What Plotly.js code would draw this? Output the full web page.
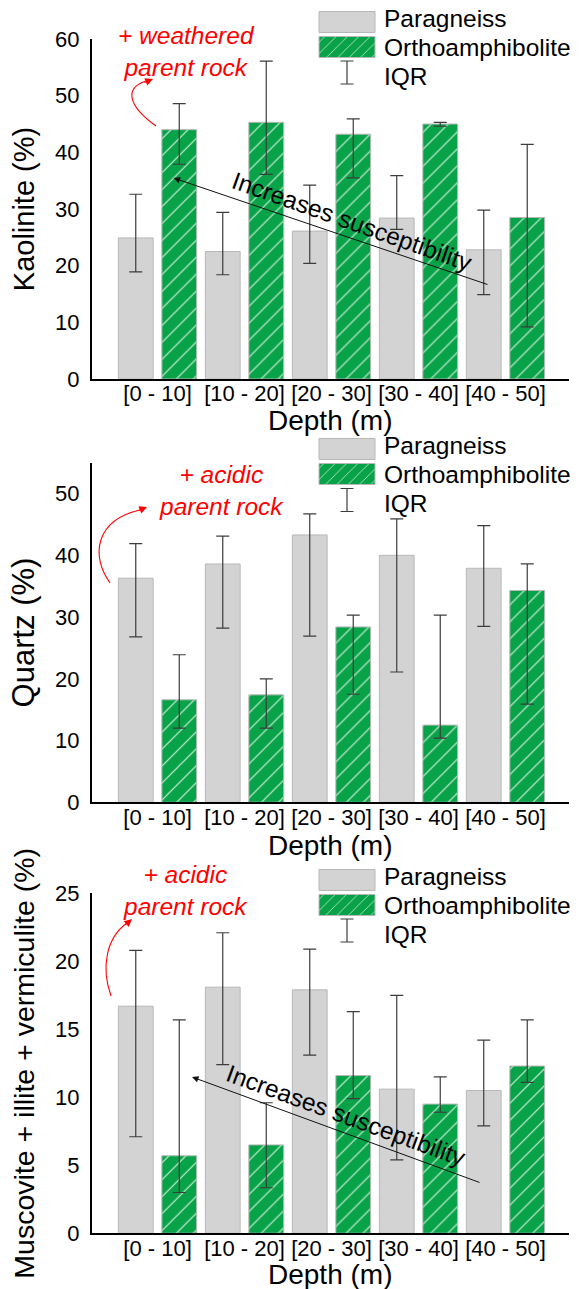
<!DOCTYPE html>
<html>
<head>
<meta charset="utf-8">
<script src="https://cdn.plot.ly/plotly-3.0.1.min.js"></script>
<style>html,body{margin:0;padding:0;background:#fff;}#plot{width:583px;height:1289px;}</style>
</head>
<body>
<div id="plot"></div>
<script>
// ---------- data ----------
const categories = ['[0 - 10]', '[10 - 20]', '[20 - 30]', '[30 - 40]', '[40 - 50]'];
const seriesNames = ['Paragneiss', 'Orthoamphibolite', 'IQR'];

// Kaolinite (%) : median, first quartile, third quartile
const kaoParaMedian  = [24.9, 22.5, 26.1, 28.4, 22.8];
const kaoParaQ1      = [18.9, 18.4, 20.4, 26.4, 14.9];
const kaoParaQ3      = [32.6, 29.4, 34.2, 35.9, 29.8];
const kaoOrthoMedian = [44.0, 45.3, 43.2, 45.0, 28.5];
const kaoOrthoQ1     = [37.9, 36.1, 35.5, 44.6, 9.2];
const kaoOrthoQ3     = [48.6, 56.1, 45.9, 45.3, 41.4];

// Quartz (%)
const qtzParaMedian  = [36.3, 38.6, 43.3, 40.0, 37.9];
const qtzParaQ1      = [26.8, 28.2, 26.9, 21.1, 28.5];
const qtzParaQ3      = [41.9, 43.1, 46.7, 45.9, 44.8];
const qtzOrthoMedian = [16.6, 17.4, 28.4, 12.5, 34.3];
const qtzOrthoQ1     = [12.0, 12.0, 17.5, 10.4, 15.9];
const qtzOrthoQ3     = [23.9, 20.0, 30.3, 30.3, 38.6];

// Muscovite + illite + vermiculite (%)
const micParaMedian  = [16.7, 18.1, 17.9, 10.6, 10.5];
const micParaQ1      = [7.1, 12.4, 13.1, 5.4, 7.9];
const micParaQ3      = [20.8, 22.1, 20.9, 17.5, 14.2];
const micOrthoMedian = [5.7, 6.5, 11.6, 9.5, 12.3];
const micOrthoQ1     = [3.0, 3.35, 9.9, 8.9, 11.1];
const micOrthoQ3     = [15.7, 9.6, 16.3, 11.5, 15.7];

const yTitles = ['Kaolinite (%)', 'Quartz (%)', 'Muscovite + illite + vermiculite (%)'];
const xTitle = 'Depth (m)';

// ---------- layout helpers ----------
const W = 583, H = 1289;
const px = x => x / W;
const py = y => 1 - y / H;
const FONT = 'Liberation Sans, Arial, Helvetica, sans-serif';
const GRAY = '#d3d3d3', GREEN = '#08a348', ERR = '#3c3c3c';
const LEGFONT = 24.5;

const panels = [
  {med: [kaoParaMedian, kaoOrthoMedian], q1: [kaoParaQ1, kaoOrthoQ1], q3: [kaoParaQ3, kaoOrthoQ3],
   top: 39, bottom: 379, range: [0, 60], dtick: 10, legendTop: 6, titleSize: 29, titleStandoff: 12, xTitleY: 421},
  {med: [qtzParaMedian, qtzOrthoMedian], q1: [qtzParaQ1, qtzOrthoQ1], q3: [qtzParaQ3, qtzOrthoQ3],
   top: 462.7, bottom: 802.3, range: [0, 55], dtick: 10, legendTop: 432, titleSize: 31, titleStandoff: 11, xTitleY: 845},
  {med: [micParaMedian, micOrthoMedian], q1: [micParaQ1, micOrthoQ1], q3: [micParaQ3, micOrthoQ3],
   top: 893.3, bottom: 1233.3, range: [0, 25], dtick: 5, legendTop: 863, titleSize: 28.5, titleStandoff: 12, xTitleY: 1274}
];

const data = [];
const layout = {
  width: W, height: H,
  margin: {l: 0, r: 0, t: 0, b: 0},
  paper_bgcolor: '#fff', plot_bgcolor: '#fff',
  font: {family: FONT, color: '#000'},
  barmode: 'group', bargap: 0, bargroupgap: 0.2,
  annotations: [], shapes: []
};

panels.forEach((p, k) => {
  const n = k === 0 ? '' : String(k + 1);
  const xa = 'x' + n, ya = 'y' + n, lg = 'legend' + n;
  const colors = [GRAY, GREEN];
  [0, 1].forEach(s => {
    const med = p.med[s], q1 = p.q1[s], q3 = p.q3[s];
    const tr = {
      type: 'bar', name: seriesNames[s], x: categories, y: med,
      xaxis: xa, yaxis: ya, legend: lg,
      error_y: {type: 'data', symmetric: false,
        array: med.map((v, i) => q3[i] - v), arrayminus: med.map((v, i) => v - q1[i]),
        color: ERR, thickness: 1.2, width: 6.5},
      marker: {color: colors[s], line: {color: '#b8b8b8', width: 1}},
      hoverinfo: 'skip'
    };
    if (s === 1) tr.marker.pattern = {shape: '/', bgcolor: GREEN, fgcolor: '#d9f2e0', size: 12, solidity: 0.09, fillmode: 'replace'};
    data.push(tr);
  });
  data.push({type: 'scatter', mode: 'markers', name: seriesNames[2], x: [null], y: [null],
    xaxis: xa, yaxis: ya, legend: lg,
    marker: {symbol: 'line-ns-open', size: 24, color: ERR, line: {color: ERR, width: 1.2}}});

  layout['xaxis' + n] = {
    domain: [px(92), px(569)], anchor: ya, type: 'category',
    range: [-0.753, 4.73], showline: true, linecolor: '#000', linewidth: 2,
    ticks: '', tickangle: 0, ticklabelstandoff: -6, showgrid: false, zeroline: false,
    tickfont: {size: 22, family: FONT, color: '#000'},
    automargin: false, fixedrange: true
  };
  layout['yaxis' + n] = {
    domain: [py(p.bottom), py(p.top)], anchor: xa, range: p.range, dtick: p.dtick,
    showline: true, linecolor: '#000', linewidth: 2, ticks: '', ticklabelstandoff: 6,
    showgrid: false, zeroline: false,
    tickfont: {size: 22, family: FONT, color: '#000'},
    title: {text: yTitles[k], font: {size: p.titleSize, family: FONT, color: '#000'}, standoff: p.titleStandoff},
    automargin: false, fixedrange: true
  };
  layout[lg] = {
    x: px(312), y: py(p.legendTop), xanchor: 'left', yanchor: 'top',
    bgcolor: 'rgba(0,0,0,0)', borderwidth: 0, font: {size: LEGFONT, family: FONT, color: '#000'},
    traceorder: 'normal'
  };
  // x axis title, placed right under the category labels
  layout.annotations.push({xref: 'paper', yref: 'paper', x: px(330.5), y: py(p.xTitleY), text: xTitle,
    showarrow: false, xanchor: 'center', yanchor: 'middle', font: {size: 28, family: FONT, color: '#000'}});
});

// ---------- annotations (text and arrows) ----------
const red = '#ff0000';
function redText(txt, x, y) {
  layout.annotations.push({xref: 'paper', yref: 'paper', x: px(x), y: py(y), text: '<i>' + txt + '</i>',
    showarrow: false, xanchor: 'center', yanchor: 'middle', align: 'center',
    font: {size: 24.5, color: red, family: FONT}});
}
function curvedArrow(path, head, tail) {
  layout.shapes.push({type: 'path', xref: 'paper', yref: 'paper', path: path, line: {color: red, width: 1.1}});
  layout.annotations.push({xref: 'paper', yref: 'paper', x: px(head[0]), y: py(head[1]), text: '',
    showarrow: true, arrowhead: 2, arrowsize: 1.4, arrowwidth: 1.1, arrowcolor: red,
    ax: tail[0] - head[0], ay: tail[1] - head[1], axref: 'pixel', ayref: 'pixel'});
}
function P(pts) { // pixel points -> paper path
  return pts.map(t => typeof t === 'string' ? t : (px(t[0]).toFixed(4) + ',' + py(t[1]).toFixed(4))).join(' ');
}
// panel 1
redText('+ weathered<br>parent rock', 186, 52);
curvedArrow(P(['M', [156, 126], 'C', [128, 106], [124, 88], [146, 81]]), [153, 79], [143, 83]);
// panel 2
redText('+ acidic<br>parent rock', 221, 491);
curvedArrow(P(['M', [110, 583], 'C', [90, 555], [96, 520], [140, 510]]), [147, 507], [137, 511]);
// panel 3
redText('+ acidic<br>parent rock', 185, 890);
curvedArrow(P(['M', [111, 996], 'C', [101, 968], [106, 938], [127, 923]]), [132, 919], [124, 926]);

function blackArrow(head, tail, label, lx, ly, ang) {
  layout.annotations.push({xref: 'paper', yref: 'paper', x: px(head[0]), y: py(head[1]), text: '',
    showarrow: true, arrowhead: 2, arrowsize: 1.3, arrowwidth: 1, arrowcolor: '#111',
    ax: tail[0] - head[0], ay: tail[1] - head[1], axref: 'pixel', ayref: 'pixel'});
  layout.annotations.push({xref: 'paper', yref: 'paper', x: px(lx), y: py(ly), text: label, showarrow: false,
    textangle: ang, xanchor: 'center', yanchor: 'middle', font: {size: 24.5, color: '#000', family: FONT}});
}
blackArrow([173.5, 178], [489, 285], 'Increases susceptibility', 352, 221, 19.5);
blackArrow([192, 1077], [481, 1183], 'Increases susceptibility', 346, 1115, 20);

// ---------- render ----------
// swatch rows (sy) follow the reference; text rows (ty) are spaced so labels never collide
const legendSpec = [
  {id: 'legend',  sy: [22, 47, 72.5],   ty: [18, 47, 76]},
  {id: 'legend2', sy: [449, 474, 500],  ty: [445, 474, 503]},
  {id: 'legend3', sy: [880, 905, 930.5], ty: [876, 905, 934]}
];
function patchLegends(gd) {
  // restyle legend entries: larger swatches, tighter rows, error-bar glyph for IQR
  legendSpec.forEach(spec => {
    const lg = gd.querySelector('g.' + spec.id);
    if (!lg) return;
    lg.querySelectorAll('[clip-path]').forEach(el => el.removeAttribute('clip-path'));
    const items = lg.querySelectorAll('g.traces');
    items.forEach((it, i) => {
      const cy = spec.sy[i], ty0 = spec.ty[i];
      if (cy === undefined) return;
      const txt = it.querySelector('text.legendtext') || it.querySelector('text');
      if (txt) {
        const c = txt.parentNode.getScreenCTM();
        const tx = (384 - c.e).toFixed(1), ty = (ty0 + 0.36 * LEGFONT - c.f).toFixed(1);
        txt.removeAttribute('transform');
        txt.setAttribute('x', tx);
        txt.setAttribute('y', ty);
        txt.querySelectorAll('tspan[x]').forEach(ts => ts.setAttribute('x', tx));
      }
      const paths = it.querySelectorAll('g.legendpoints path');
      paths.forEach(pth => {
        const c = pth.getScreenCTM();
        const ox = -c.e, oy = -c.f;
        if (i < 2) {
          pth.setAttribute('d', `M${319 + ox},${cy - 10.5 + oy}h56v21h-56Z`);
        } else {
          const x0 = 347 + ox, y0 = cy + oy;
          pth.setAttribute('d', `M${x0 - 6.5},${y0 - 11.5}h13M${x0},${y0 - 11.5}v23M${x0 - 6.5},${y0 + 11.5}h13`);
          pth.style.fill = 'none';
        }
      });
    });
  });
}
Plotly.newPlot('plot', data, layout, {staticPlot: true, displayModeBar: false}).then(gd => {
  patchLegends(gd);
  gd.on('plotly_afterplot', () => patchLegends(gd));
  requestAnimationFrame(() => patchLegends(gd));
  [30, 150, 400, 900].forEach(t => setTimeout(() => patchLegends(gd), t));
});
</script>
</body>
</html>
